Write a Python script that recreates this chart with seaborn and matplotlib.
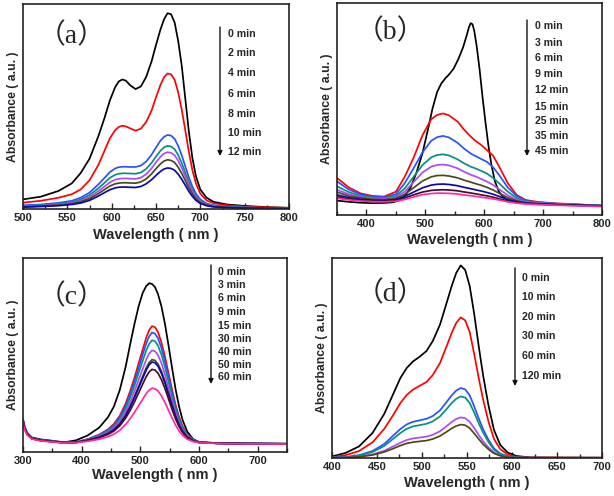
import numpy as np
import pandas as pd
import matplotlib
matplotlib.use("Agg")
import matplotlib.pyplot as plt
import seaborn as sns
from matplotlib.ticker import MultipleLocator

# ---------------- data ----------------
# panel (a)
wl_a = [500, 520, 540, 555, 565, 575, 585, 592, 598, 604, 608, 612, 616, 621, 627, 633, 639, 645, 650,
        655, 659, 663, 667, 671, 675, 679, 683, 687, 691, 695, 700, 707, 715, 730, 750, 775, 800]
times_a = ["0 min", "2 min", "4 min", "6 min", "8 min", "10 min", "12 min"]
a_0 = [.047, .060, .088, .125, .175, .245, .355, .445, .530, .595, .622, .632, .626, .603, .585, .598, .645,
       .720, .800, .875, .925, .955, .950, .910, .820, .700, .540, .380, .250, .160, .095, .055, .035, .022,
       .015, .009, .006]
a_2 = [.031, .040, .055, .072, .095, .140, .215, .285, .345, .385, .400, .406, .403, .393, .382, .392, .425,
       .480, .545, .605, .642, .661, .657, .630, .570, .485, .385, .280, .190, .125, .075, .042, .028, .018,
       .012, .008, .005]
a_4 = [.018, .022, .030, .040, .055, .080, .120, .152, .180, .198, .204, .206, .206, .205, .205, .212, .232,
       .265, .300, .333, .352, .361, .358, .342, .308, .262, .208, .155, .110, .075, .047, .027, .018, .012,
       .008, .005, .004]
a_6 = [.015, .018, .025, .034, .046, .068, .101, .128, .152, .167, .172, .174, .174, .173, .172, .178, .196,
       .225, .256, .284, .301, .308, .305, .292, .263, .224, .178, .133, .095, .065, .041, .024, .016, .010,
       .007, .005, .004]
a_8 = [.013, .016, .022, .030, .040, .058, .087, .110, .130, .143, .147, .149, .149, .148, .147, .153, .170,
       .198, .228, .254, .270, .277, .274, .262, .236, .201, .160, .119, .085, .058, .037, .022, .014, .009,
       .006, .004, .003]
a_10 = [.011, .014, .019, .026, .035, .050, .075, .095, .112, .123, .126, .128, .128, .127, .126, .132, .147,
        .171, .197, .220, .234, .240, .237, .227, .204, .174, .139, .103, .074, .050, .032, .019, .012, .008,
        .005, .004, .003]
a_12 = [.009, .012, .016, .022, .029, .042, .063, .080, .094, .103, .106, .107, .107, .106, .105, .110, .123,
        .143, .164, .183, .195, .200, .198, .189, .170, .145, .116, .086, .062, .042, .027, .016, .010, .007,
        .004, .003, .002]

# panel (b)
wl_b0 = [350, 370, 390, 410, 430, 445, 455, 465, 475, 485, 495, 505, 512, 520, 527, 534, 540, 548, 556,
         564, 570, 574, 577, 580, 583, 587, 592, 597, 602, 607, 612, 618, 625, 632, 640, 655, 670, 690, 720,
         760, 800]
b_0 = [.068, .062, .058, .056, .057, .060, .068, .090, .130, .200, .290, .410, .500, .580, .620, .645, .662,
       .690, .735, .790, .845, .885, .905, .900, .870, .800, .690, .560, .440, .330, .240, .160, .110, .085,
       .070, .061, .057, .055, .050, .047, .044]
wl_b = [350, 370, 390, 410, 430, 450, 465, 480, 495, 510, 520, 530, 540, 555, 565, 577, 585, 595,
        605, 615, 625, 640, 655, 670, 690, 720, 760, 800]
times_b = ["0 min", "3 min", "6 min", "9 min", "12 min", "15 min", "25 min", "35 min", "45 min"]
b_3 = [0.175, 0.130, 0.102, 0.090, 0.087, 0.110, 0.180, 0.270, 0.375, 0.452, 0.472, 0.479, 0.470, 0.440,
       0.405, 0.370, 0.350, 0.330, 0.305, 0.280, 0.230, 0.150, 0.095, 0.071, 0.062, 0.055, 0.050, 0.044]
b_6 = [0.159, 0.120, 0.097, 0.087, 0.084, 0.098, 0.150, 0.220, 0.295, 0.350, 0.367, 0.373, 0.366, 0.340,
       0.315, 0.290, 0.278, 0.264, 0.250, 0.225, 0.190, 0.130, 0.090, 0.068, 0.060, 0.054, 0.049, 0.044]
b_9 = [0.135, 0.108, 0.090, 0.082, 0.080, 0.090, 0.125, 0.180, 0.235, 0.272, 0.283, 0.286, 0.281, 0.262,
       0.245, 0.228, 0.220, 0.208, 0.195, 0.175, 0.150, 0.110, 0.080, 0.064, 0.058, 0.053, 0.048, 0.044]
b_12 = [0.119, 0.098, 0.085, 0.078, 0.076, 0.084, 0.110, 0.155, 0.200, 0.228, 0.236, 0.238, 0.234, 0.220,
        0.205, 0.190, 0.182, 0.170, 0.157, 0.142, 0.122, 0.093, 0.072, 0.061, 0.056, 0.052, 0.047, 0.043]
b_15 = [0.108, 0.090, 0.080, 0.074, 0.072, 0.078, 0.098, 0.128, 0.160, 0.180, 0.186, 0.187, 0.184, 0.175,
        0.165, 0.155, 0.148, 0.140, 0.130, 0.118, 0.103, 0.082, 0.067, 0.058, 0.054, 0.050, 0.046, 0.043]
b_25 = [0.095, 0.082, 0.074, 0.070, 0.068, 0.073, 0.088, 0.108, 0.128, 0.141, 0.145, 0.146, 0.144, 0.138,
        0.131, 0.124, 0.119, 0.113, 0.106, 0.098, 0.088, 0.073, 0.062, 0.056, 0.052, 0.049, 0.046, 0.043]
b_35 = [0.087, 0.076, 0.070, 0.066, 0.065, 0.069, 0.080, 0.095, 0.108, 0.116, 0.118, 0.119, 0.118, 0.114,
        0.109, 0.104, 0.100, 0.095, 0.090, 0.084, 0.077, 0.066, 0.058, 0.054, 0.051, 0.048, 0.045, 0.042]
b_45 = [0.079, 0.071, 0.066, 0.063, 0.062, 0.065, 0.073, 0.085, 0.096, 0.101, 0.103, 0.103, 0.102, 0.099,
        0.095, 0.091, 0.088, 0.084, 0.080, 0.076, 0.071, 0.062, 0.056, 0.052, 0.049, 0.046, 0.043, 0.040]

# panel (c)
wl_c = [300, 303, 307, 315, 330, 350, 370, 390, 410, 430, 445, 455, 465, 475, 483, 490, 497, 504, 510,
        515, 520, 525, 530, 536, 542, 548, 554, 560, 566, 572, 580, 590, 600, 630, 680, 750]
times_c = ["0 min", "3 min", "6 min", "9 min", "15 min", "30 min", "40 min", "50 min", "60 min"]
c_0 = [.170, .130, .100, .075, .065, .058, .050, .060, .085, .126, .180, .235, .320, .440, .560, .660, .750,
       .820, .855, .870, .866, .850, .815, .750, .660, .550, .435, .325, .235, .165, .105, .066, .052, .046,
       .044, .043]
c_3 = [.165, .125, .097, .072, .062, .056, .049, .051, .066, .090, .117, .145, .187, .250, .317, .383, .456,
       .528, .589, .628, .649, .643, .619, .564, .492, .407, .323, .244, .181, .133, .090, .063, .051, .045,
       .043, .042]
c_6 = [.163, .124, .096, .071, .061, .055, .049, .051, .065, .088, .114, .139, .179, .239, .302, .365, .433,
       .502, .559, .596, .616, .610, .587, .536, .468, .388, .308, .233, .173, .128, .088, .062, .051, .045,
       .043, .042]
c_9 = [.162, .123, .095, .071, .061, .055, .048, .050, .064, .085, .109, .133, .170, .226, .284, .342, .406,
       .470, .523, .557, .576, .571, .549, .502, .438, .364, .289, .220, .164, .122, .085, .061, .050, .045,
       .043, .042]
c_15 = [.160, .122, .094, .070, .060, .054, .048, .050, .062, .081, .102, .124, .158, .208, .261, .313, .371,
        .428, .476, .507, .524, .519, .500, .457, .399, .332, .265, .203, .153, .114, .081, .059, .050, .045,
        .043, .042]
c_30 = [.158, .120, .093, .070, .060, .054, .048, .049, .060, .077, .097, .116, .146, .192, .239, .286, .338,
        .390, .433, .461, .476, .472, .454, .416, .364, .304, .243, .187, .142, .107, .077, .058, .049, .045,
        .043, .042]
c_40 = [.157, .119, .092, .069, .059, .054, .048, .049, .060, .076, .095, .114, .143, .187, .234, .280, .330,
        .380, .422, .449, .464, .460, .443, .405, .355, .296, .238, .183, .139, .106, .076, .058, .049, .045,
        .043, .042]
c_50 = [.155, .118, .091, .069, .059, .053, .047, .049, .058, .074, .091, .108, .135, .175, .216, .258, .304,
        .350, .388, .413, .426, .422, .407, .373, .327, .274, .220, .171, .131, .100, .074, .056, .049, .045,
        .043, .042]
c_60 = [.150, .114, .088, .067, .057, .052, .046, .048, .055, .066, .079, .092, .112, .142, .173, .204, .238,
        .272, .301, .319, .329, .326, .315, .289, .255, .215, .176, .139, .109, .086, .066, .054, .048, .044,
        .042, .041]

# panel (d)
wl_d = [400, 415, 430, 445, 458, 468, 476, 483, 490, 497, 505, 512, 520, 527, 533, 538, 543, 548, 553,
        558, 563, 568, 574, 580, 587, 595, 605, 620, 700]
times_d = ["0 min", "10 min", "20 min", "30 min", "60 min", "120 min"]
d_0 = [.008, .025, .058, .125, .220, .320, .400, .450, .483, .505, .535, .585, .667, .770, .860, .925, .963,
       .940, .860, .720, .560, .410, .260, .140, .065, .028, .010, .003, .002]
d_10 = [.004, .014, .035, .078, .145, .215, .275, .315, .342, .360, .380, .415, .475, .555, .625, .675, .703,
        .688, .630, .520, .400, .290, .180, .095, .044, .018, .006, .002, .001]
d_20 = [.002, .005, .014, .035, .070, .112, .145, .168, .181, .188, .196, .210, .238, .278, .313, .337, .350,
        .343, .313, .258, .198, .143, .090, .048, .022, .009, .003, .001, .000]
d_30 = [.002, .004, .012, .030, .060, .096, .125, .146, .158, .164, .171, .183, .208, .243, .275, .296, .308,
        .302, .275, .227, .174, .126, .079, .042, .019, .008, .003, .001, .000]
d_60 = [.001, .003, .007, .018, .036, .058, .076, .090, .098, .102, .107, .116, .134, .158, .180, .195, .203,
        .199, .181, .150, .115, .083, .052, .028, .013, .005, .002, .001, .000]
d_120 = [.001, .002, .006, .015, .030, .047, .062, .073, .079, .083, .087, .095, .110, .130, .148, .160, .167,
         .164, .149, .123, .095, .068, .043, .023, .011, .004, .002, .001, .000]

colors9 = ["#000000", "#ff0000", "#2a50ff", "#00927e", "#b048f5", "#4a4a18", "#0a0aa8", "#4a0a28", "#ff2aa6"]
colors_a = colors9[:7]
colors_d = colors9[:6]

# ---------------- style ----------------
sns.set_theme(style="white")
plt.rcParams["font.family"] = ["Liberation Sans", "DejaVu Sans"]
plt.rcParams["font.weight"] = "bold"
plt.rcParams["axes.linewidth"] = 1.2
plt.rcParams["axes.edgecolor"] = "#222222"

W, H = 614, 496
fig = plt.figure(figsize=(W / 100, H / 100), dpi=100)


def rect(l, t, r, b):
    return [l / W, 1 - b / H, (r - l) / W, (b - t) / H]


def panel(box, curves, times, colors, xlim, major, minor, tag, tagxy,
          arrow_x, arrow_y, text_x, text_ys, xlabel_y):
    ax = fig.add_axes(rect(*box))
    frames = []
    for (wl, vals), t in zip(curves, times):
        frames.append(pd.DataFrame({"wl": wl, "A": vals, "t": t}))
    df = pd.concat(frames, ignore_index=True)
    sns.lineplot(data=df, x="wl", y="A", hue="t", hue_order=times, palette=colors,
                 ax=ax, legend=False, linewidth=1.25, estimator=None)
    ax.set_xlim(*xlim)
    ax.set_ylim(0, 1)
    ax.set_yticks([])
    ax.xaxis.set_major_locator(MultipleLocator(major))
    ax.xaxis.set_minor_locator(MultipleLocator(minor))
    ax.tick_params(axis="x", which="both", direction="in", bottom=True, top=False,
                   labelsize=8, pad=3)
    ax.tick_params(axis="x", which="major", length=4, width=1)
    ax.tick_params(axis="x", which="minor", length=3, width=1)
    for lab in ax.get_xticklabels():
        lab.set_fontweight("bold")
    ax.set_xlabel("")
    ax.set_ylabel("Absorbance ( a.u. )", fontsize=8.8, fontweight="bold", labelpad=3)
    cx = (box[0] + box[2]) / 2
    fig.text(cx / W, 1 - xlabel_y / H, "Wavelength ( nm )", fontsize=10.5,
             fontweight="bold", ha="center", va="center")
    fig.text(tagxy[0] / W, 1 - tagxy[1] / H, tag, fontsize=20,
             family=["Liberation Serif", "Noto Sans CJK SC"], fontweight="normal",
             ha="center", va="center")
    ax.annotate("", xy=(arrow_x / W, 1 - arrow_y[1] / H), xytext=(arrow_x / W, 1 - arrow_y[0] / H),
                xycoords="figure fraction", textcoords="figure fraction",
                arrowprops=dict(arrowstyle="-|>", color="#111111", lw=1.0, mutation_scale=7,
                                shrinkA=0, shrinkB=0))
    for t, y in zip(times, text_ys):
        fig.text(text_x / W, 1 - y / H, t, fontsize=7.6, fontweight="bold",
                 ha="left", va="center")
    return ax


panel((23, 4, 289, 209),
      [(wl_a, a_0), (wl_a, a_2), (wl_a, a_4), (wl_a, a_6), (wl_a, a_8), (wl_a, a_10), (wl_a, a_12)],
      times_a, colors_a, (500, 800), 50, 25, "（a）", (72, 36), 220, (27, 156), 228,
      [34, 53, 73, 94, 114, 133, 152], 235)

panel((337, 3, 602, 215),
      [(wl_b0, b_0), (wl_b, b_3), (wl_b, b_6), (wl_b, b_9), (wl_b, b_12), (wl_b, b_15), (wl_b, b_25),
       (wl_b, b_35), (wl_b, b_45)],
      times_b, colors9, (350, 800), 100, 50, "（b）", (390, 32), 527, (20, 156), 535,
      [26, 43, 58, 74, 90, 107, 121, 136, 151], 240)

panel((23, 258, 287, 452),
      [(wl_c, c_0), (wl_c, c_3), (wl_c, c_6), (wl_c, c_9), (wl_c, c_15), (wl_c, c_30), (wl_c, c_40),
       (wl_c, c_50), (wl_c, c_60)],
      times_c, colors9, (300, 750), 100, 50, "（c）", (72, 297), 211, (265, 384), 218,
      [272, 285, 298, 312, 326, 339, 352, 365, 377], 475)

panel((332, 258, 602, 458),
      [(wl_d, d_0), (wl_d, d_10), (wl_d, d_20), (wl_d, d_30), (wl_d, d_60), (wl_d, d_120)],
      times_d, colors_d, (400, 700), 50, 25, "（d）", (390, 294), 515, (268, 386), 522,
      [278, 297, 317, 336, 356, 376], 483)

fig.savefig("out.png", dpi=100)
